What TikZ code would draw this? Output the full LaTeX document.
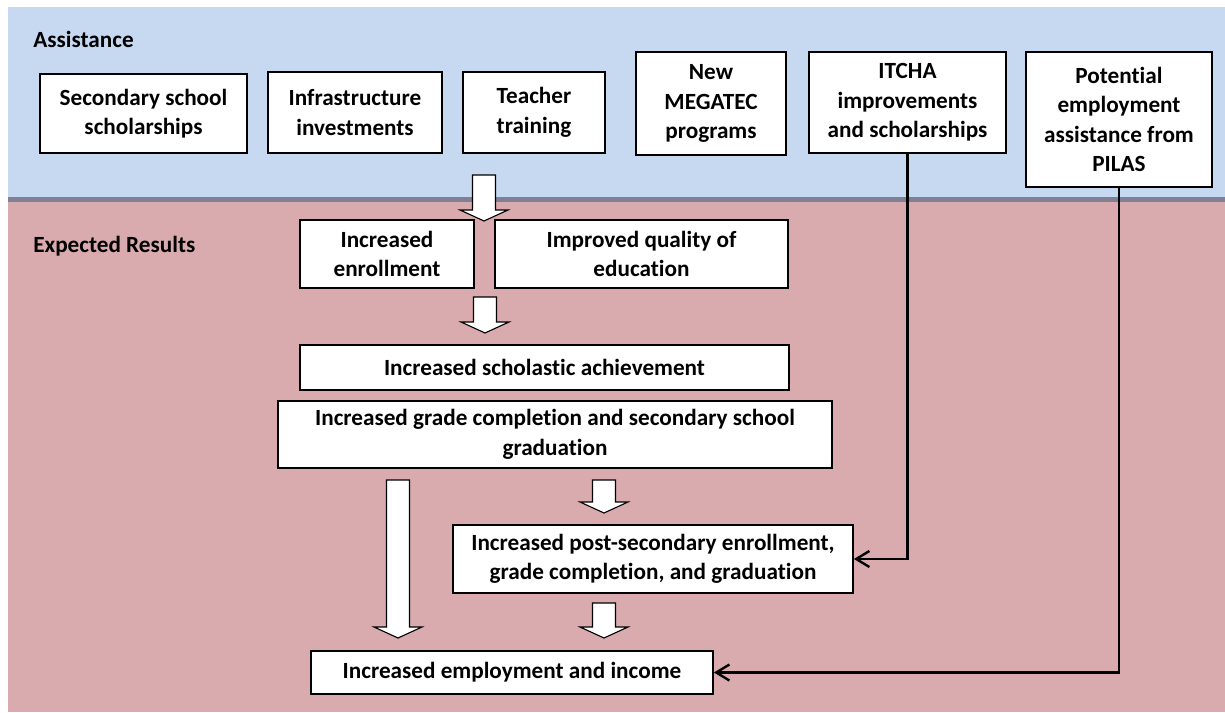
\documentclass[tikz,border=0pt]{standalone}
\usepackage{fontspec}
\setmainfont{Carlito}[Ligatures=NoCommon]
\usetikzlibrary{arrows.meta}

\definecolor{assistblue}{RGB}{198,217,240}
\definecolor{resultpink}{RGB}{217,170,174}
\definecolor{dividergray}{RGB}{128,128,148}

\begin{document}
\begin{tikzpicture}[
    x=0.025cm, y=-0.025cm,
    box/.style={draw,line width=1.2pt,fill=white,align=center,inner sep=2pt,
        font=\bfseries\fontsize{16.5}{21}\selectfont},
    heading/.style={anchor=base west,inner sep=0pt,font=\bfseries\fontsize{16.5}{21}\selectfont},
    link/.style={line width=1.7pt,-{Straight Barb[length=3.3mm,width=4mm]}},
    fat/.style={draw,line width=0.8pt,fill=white}
]
\useasboundingbox (0,0) rectangle (1225,712);

% Bands
\fill[assistblue] (8,7) rectangle (1225,199);
\fill[resultpink] (8,199) rectangle (1225,712);
\draw[dividergray,line width=3pt] (8,199.5) -- (1225,199.5);

\node[heading] (assist) at (33,47) {Assistance};
\node[heading] (expect) at (33,252) {Expected Results};

% Assistance
\node[box,minimum width=5.175cm,minimum height=1.975cm] (sec) at (143.5,113.5) {Secondary school\\scholarships};
\node[box,minimum width=4.35cm,minimum height=2.025cm] (infra) at (355,112.5) {Infrastructure\\investments};
\node[box,minimum width=3.55cm,minimum height=2.025cm] (teach) at (534,112.5) {Teacher\\training};
\node[box,minimum width=3.75cm,minimum height=2.575cm] (megatec) at (711,103.5) {New\\MEGATEC\\programs};
\node[box,minimum width=4.925cm,minimum height=2.525cm] (itcha) at (907.5,102.5) {ITCHA\\improvements\\and scholarships};
\node[box,minimum width=4.65cm,minimum height=3.375cm] (pilas) at (1119,119.5) {Potential\\employment\\assistance from\\PILAS};

% Expected results
\node[box,minimum width=4.35cm,minimum height=1.7cm] (enroll) at (387,254) {Increased\\enrollment};
\node[box,minimum width=7.325cm,minimum height=1.7cm] (quality) at (641.5,254) {Improved quality of\\education};
\node[box,minimum width=12.225cm,minimum height=1.125cm] (scholastic) at (544.5,367.5) {Increased scholastic achievement};
\node[box,minimum width=13.85cm,minimum height=1.675cm] (grade) at (555,434.5) {Increased grade completion and secondary school\\graduation};
\node[box,minimum width=10cm,minimum height=1.7cm] (post) at (653,559) {Increased post-secondary enrollment,\\grade completion, and graduation};
\node[box,minimum width=10.05cm,minimum height=1.075cm] (employ) at (512,672.5) {Increased employment and income};

% Block arrows
\foreach \x/\ya/\yb in {484/175/221, 485/297/333, 398/480/638, 604/480/513, 604/603/638}
    \draw[fat] (\x-11.5,\ya) -- (\x+11.5,\ya) -- (\x+11.5,\yb-11) -- (\x+24,\yb-11)
        -- (\x,\yb) -- (\x-24,\yb-11) -- (\x-11.5,\yb-11) -- cycle;

% Links
\draw[link] (itcha.south) |- (post.east);
\draw[link] (pilas.south) |- (employ.east);

\end{tikzpicture}
\end{document}
